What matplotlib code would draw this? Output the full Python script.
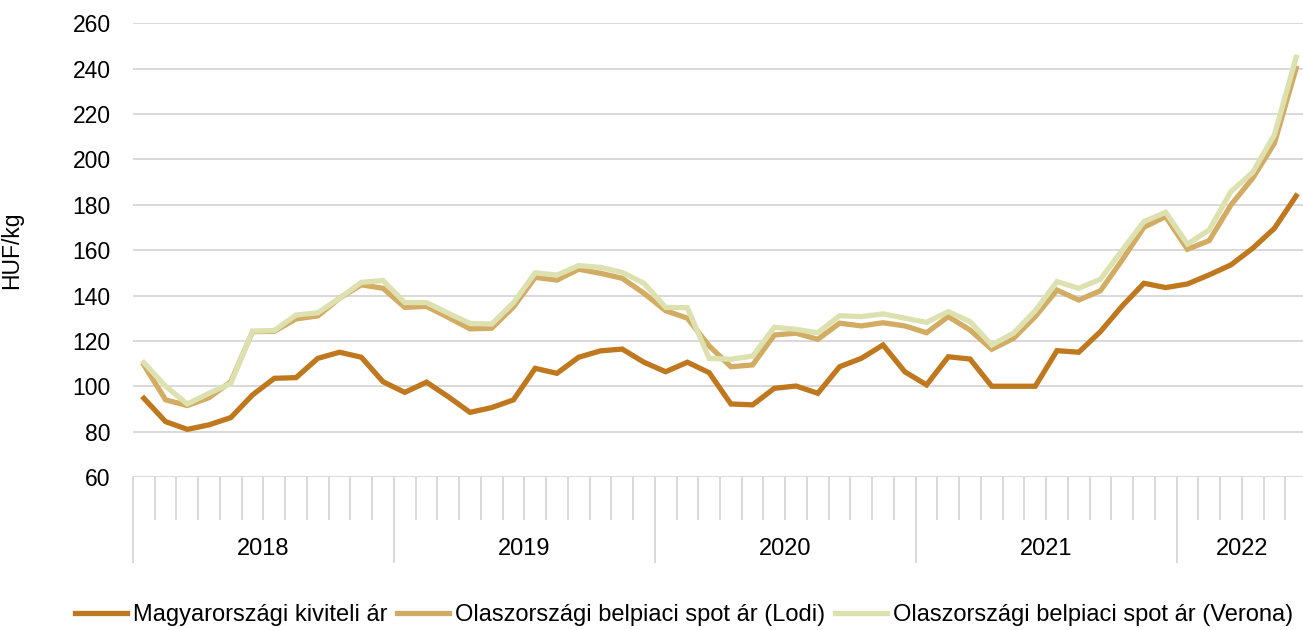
import matplotlib
matplotlib.use("Agg")
import matplotlib.pyplot as plt
import numpy as np
from matplotlib.ticker import FixedLocator

plt.rcParams['font.family'] = ['Liberation Sans', 'DejaVu Sans']
plt.rcParams['font.size'] = 16.8

# monthly series, Jan 2018 - Jun 2022 (HUF/kg)
years = ['2018', '2019', '2020', '2021', '2022']
months_per_year = [12, 12, 12, 12, 6]

hu_export = [94.7, 84.4, 81.0, 83.0, 86.2, 96.2, 103.5, 103.8, 112.3, 115.0, 112.8, 102.0,
             97.3, 101.8, 95.4, 88.5, 90.6, 94.0, 107.9, 105.7, 112.8, 115.6, 116.4, 110.6,
             106.4, 110.6, 106.0, 92.2, 91.8, 99.1, 100.1, 96.9, 108.6, 112.3, 118.2, 106.4,
             100.6, 113.0, 112.0, 100.0, 100.0, 100.0, 115.7, 115.0, 124.1, 135.4, 145.4, 143.5,
             145.1, 149.1, 153.5, 160.8, 169.6, 183.9]

it_lodi = [109.4, 94.0, 91.5, 95.0, 102.0, 124.1, 124.2, 129.7, 131.0, 138.8, 144.7, 143.2,
           134.8, 135.2, 130.4, 125.3, 125.6, 135.0, 148.0, 146.8, 151.6, 149.8, 147.6, 141.0,
           133.3, 130.0, 117.8, 108.6, 109.4, 122.6, 123.4, 120.7, 127.8, 126.6, 128.0, 126.6,
           123.6, 130.7, 124.8, 116.3, 121.1, 130.7, 142.4, 138.0, 142.1, 155.7, 170.1, 174.8,
           160.4, 164.2, 179.9, 191.7, 207.1, 240.2]

it_verona = [110.4, 100.0, 92.2, 96.9, 101.3, 124.3, 124.6, 131.4, 132.4, 138.8, 145.8, 146.6,
             136.9, 136.9, 132.2, 127.7, 127.4, 136.8, 150.0, 149.0, 153.2, 152.4, 150.2, 145.4,
             134.8, 134.6, 112.3, 111.9, 113.3, 126.0, 125.1, 123.6, 131.1, 130.7, 131.9, 130.0,
             128.2, 132.9, 128.5, 118.2, 123.4, 133.3, 146.1, 143.2, 147.2, 160.0, 172.6, 176.7,
             162.7, 168.9, 185.8, 194.3, 210.8, 245.0]

labels = ['Magyarországi kiviteli ár',
          'Olaszországi belpiaci spot ár (Lodi)',
          'Olaszországi belpiaci spot ár (Verona)']
colors = ['#C0781F', '#D2AC62', '#DDE1B0']

n = len(hu_export)
x = np.arange(n) + 0.5

W, H = 1303, 630
fig = plt.figure(figsize=(W / 100, H / 100), dpi=100)
left, right, top, bottom = 133, 1307, 23.3, 477
ax = fig.add_axes([left / W, 1 - bottom / H, (right - left) / W, (bottom - top) / H])

for series, lab, col in zip([hu_export, it_lodi, it_verona], labels, colors):
    ax.plot(x, series, color=col, lw=3.8, label=lab, solid_joinstyle='miter', zorder=3)

ax.set_xlim(0, n)
ax.set_ylim(60, 260)
ax.set_yticks(np.arange(60, 261, 20))
ax.grid(axis='y', color='#D9D9D9', lw=1.4, zorder=0)
for s in ax.spines.values():
    s.set_visible(False)
ax.tick_params(axis='y', length=0, pad=16, labelsize=16.5)

# two-level category axis: month ticks + year separators
bounds = np.concatenate([[0], np.cumsum(months_per_year)])
ax.xaxis.set_major_locator(FixedLocator(bounds))
ax.xaxis.set_minor_locator(FixedLocator(np.arange(0, n + 1)))
ax.tick_params(axis='x', which='major', length=62, width=1.4, color='#D9D9D9', labelbottom=False)
ax.tick_params(axis='x', which='minor', length=31, width=1.4, color='#D9D9D9')
for i, yr in enumerate(years):
    c = (bounds[i] + bounds[i + 1]) / 2
    ax.annotate(yr, xy=(c, 0), xycoords=('data', 'axes fraction'),
                xytext=(0, -72), textcoords='offset pixels',
                ha='center', va='center', fontsize=17)

ax.set_ylabel('HUF/kg', fontsize=16.5)
ax.yaxis.set_label_coords((23 - left) / (right - left), 0.5)

fig.legend(loc='center', bbox_to_anchor=(684 / W, 1 - 615 / H), ncol=3, frameon=False,
           handlelength=2.2, handletextpad=0.25, columnspacing=0.42, fontsize=17,
           borderpad=0, borderaxespad=0)

fig.savefig('out.png', dpi=100)
